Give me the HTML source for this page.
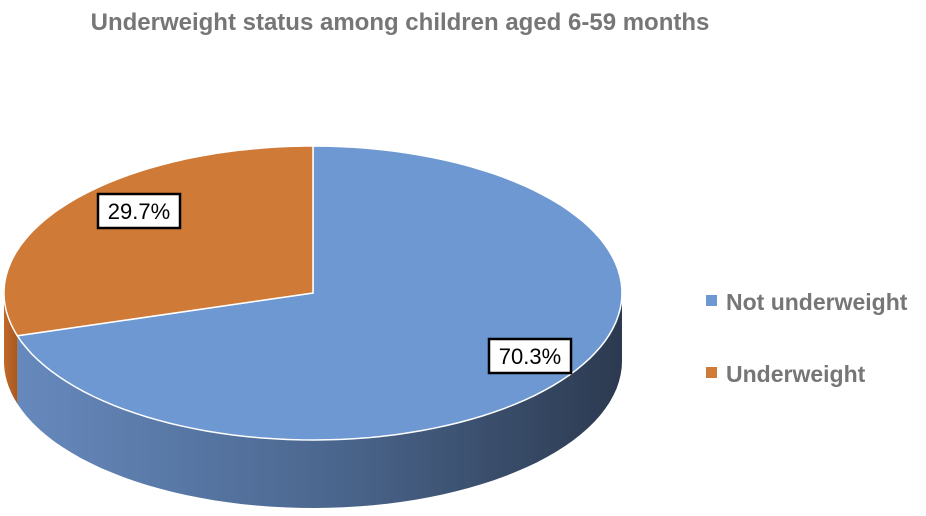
<!DOCTYPE html>
<html><head><meta charset="utf-8"><style>
body{margin:0;background:#fff;}
svg{display:block;font-family:"Liberation Sans",sans-serif;}
</style></head><body>
<svg width="926" height="516" viewBox="0 0 926 516">
<defs>
<linearGradient id="sideG" x1="0" x2="1" y1="0" y2="0">
<stop offset="0" stop-color="#6689bd"/><stop offset="0.5" stop-color="#4c6890"/><stop offset="1" stop-color="#2c3a50"/>
</linearGradient>
<linearGradient id="sideO" x1="0" x2="1"><stop offset="0" stop-color="#c0692a"/><stop offset="1" stop-color="#a85820"/></linearGradient>
</defs>
<text x="400" y="30" text-anchor="middle" font-size="24" font-weight="bold" fill="#767676">Underweight status among children aged 6-59 months</text>
<g id="pie"></g>
<g>
<rect x="706" y="295" width="11" height="11" fill="#6e98d2"/>
<text x="726" y="310" font-size="23" font-weight="bold" fill="#767676">Not underweight</text>
<rect x="706" y="367" width="11" height="11" fill="#d07a38"/>
<text x="726" y="382" font-size="23" font-weight="bold" fill="#767676">Underweight</text>
</g>
</svg>
<script>
const categories=["Not underweight","Underweight"];
const values=[70.3,29.7];
const labels=["70.3%","29.7%"];
const colors=["#6e98d2","#d07a38"];
const sideFills=["url(#sideG)","url(#sideO)"];
const cx=313,cy=293,rx=309,ry=147,depth=68;
const g=document.getElementById('pie');
const NS="http://www.w3.org/2000/svg";
function pt(a,dy){const r=a*Math.PI/180;return [cx+rx*Math.sin(r),cy-ry*Math.cos(r)+(dy||0)];}
const total=values.reduce((a,b)=>a+b,0);
let start=0;const spans=[];
values.forEach(v=>{const e=start+v/total*360;spans.push([start,e]);start=e;});
// sides (front half 90..270)
spans.forEach((s,i)=>{
 const a0=Math.max(s[0],90),a1=Math.min(s[1],270);
 if(a1<=a0)return;
 let d="";const N=60;
 for(let k=0;k<=N;k++){const p=pt(a0+(a1-a0)*k/N);d+=(k?"L":"M")+p[0].toFixed(1)+","+p[1].toFixed(1);}
 for(let k=N;k>=0;k--){const p=pt(a0+(a1-a0)*k/N,depth);d+="L"+p[0].toFixed(1)+","+p[1].toFixed(1);}
 const el=document.createElementNS(NS,'path');
 el.setAttribute('d',d+"Z");el.setAttribute('fill',sideFills[i]);
 
 
 g.appendChild(el);
});
// top slices
spans.forEach((s,i)=>{
 let d="M"+cx+","+cy;const N=100;
 for(let k=0;k<=N;k++){const p=pt(s[0]+(s[1]-s[0])*k/N);d+="L"+p[0].toFixed(1)+","+p[1].toFixed(1);}
 const el=document.createElementNS(NS,'path');
 el.setAttribute('d',d+"Z");el.setAttribute('fill',colors[i]);el.setAttribute('stroke','#fff');el.setAttribute('stroke-width','1.5');
 
 
 g.appendChild(el);
});
// labels
const labelPos=[[530,356],[139,211]];
labels.forEach((t,i)=>{
 const [x,y]=labelPos[i];
 const r=document.createElementNS(NS,'rect');
 r.setAttribute('x',x-41);r.setAttribute('y',y-17);r.setAttribute('width',82);r.setAttribute('height',34);
 r.setAttribute('fill','#fff');r.setAttribute('stroke','#000');r.setAttribute('stroke-width','2.5');
 
 
 g.appendChild(r);
 const tx=document.createElementNS(NS,'text');
 tx.setAttribute('x',x);tx.setAttribute('y',y+8);tx.setAttribute('text-anchor','middle');tx.setAttribute('font-size','22');tx.setAttribute('fill','#000');
 tx.textContent=t;
 
 
 g.appendChild(tx);
});
</script>
</body></html>
